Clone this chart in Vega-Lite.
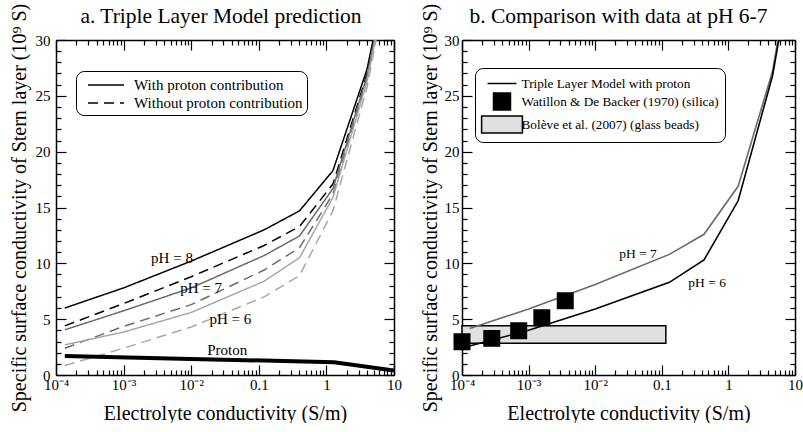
{
  "$schema": "https://vega.github.io/schema/vega-lite/v6.json",
  "padding": {"left": 9, "top": 3, "right": 0, "bottom": 0},
  "background": "white",
  "bounds": "flush",
  "spacing": 68,
  "resolve": {"scale": {"color": "independent", "fill": "independent", "shape": "independent", "stroke": "independent", "strokeDash": "independent"}, "legend": {"color": "independent", "fill": "independent", "shape": "independent", "stroke": "independent", "strokeDash": "independent"}},
  "config": {
    "font": "Liberation Serif",
    "view": {"stroke": null},
    "axis": {"labelFont": "Liberation Serif", "labelFontSize": 15, "labelColor": "black", "titleFont": "Liberation Serif", "titleFontSize": 20, "titleFontWeight": "normal", "titleColor": "black", "domainColor": "black", "domainWidth": 1.5, "tickColor": "black", "tickWidth": 1.2, "grid": false, "labelOverlap": false, "labelFlush": false, "labelBound": false},
    "title": {"font": "Liberation Serif", "fontSize": 21.5, "fontWeight": "normal", "color": "black"},
    "legend": {"labelFont": "Liberation Serif", "labelColor": "black"}
  },
  "datasets": {
    "a_lines": [
      {"x": 0.000135, "y": 6.0, "pH": "8", "type": "With proton contribution"},
      {"x": 0.001, "y": 7.8, "pH": "8", "type": "With proton contribution"},
      {"x": 0.01, "y": 10.2, "pH": "8", "type": "With proton contribution"},
      {"x": 0.12, "y": 13.0, "pH": "8", "type": "With proton contribution"},
      {"x": 0.4, "y": 14.7, "pH": "8", "type": "With proton contribution"},
      {"x": 1.25, "y": 18.3, "pH": "8", "type": "With proton contribution"},
      {"x": 4.0, "y": 27.4, "pH": "8", "type": "With proton contribution"},
      {"x": 6.0, "y": 32.6, "pH": "8", "type": "With proton contribution"},
      {"x": 0.000135, "y": 4.4, "pH": "8", "type": "Without proton contribution"},
      {"x": 0.001, "y": 6.4, "pH": "8", "type": "Without proton contribution"},
      {"x": 0.01, "y": 8.8, "pH": "8", "type": "Without proton contribution"},
      {"x": 0.12, "y": 11.6, "pH": "8", "type": "Without proton contribution"},
      {"x": 0.4, "y": 13.3, "pH": "8", "type": "Without proton contribution"},
      {"x": 1.25, "y": 17.1, "pH": "8", "type": "Without proton contribution"},
      {"x": 4.0, "y": 27.0, "pH": "8", "type": "Without proton contribution"},
      {"x": 6.0, "y": 32.3, "pH": "8", "type": "Without proton contribution"},
      {"x": 0.000135, "y": 4.05, "pH": "7", "type": "With proton contribution"},
      {"x": 0.001, "y": 5.75, "pH": "7", "type": "With proton contribution"},
      {"x": 0.01, "y": 7.8, "pH": "7", "type": "With proton contribution"},
      {"x": 0.12, "y": 10.7, "pH": "7", "type": "With proton contribution"},
      {"x": 0.4, "y": 12.45, "pH": "7", "type": "With proton contribution"},
      {"x": 1.25, "y": 16.7, "pH": "7", "type": "With proton contribution"},
      {"x": 4.0, "y": 26.8, "pH": "7", "type": "With proton contribution"},
      {"x": 6.0, "y": 32.1, "pH": "7", "type": "With proton contribution"},
      {"x": 0.000135, "y": 2.4, "pH": "7", "type": "Without proton contribution"},
      {"x": 0.001, "y": 4.35, "pH": "7", "type": "Without proton contribution"},
      {"x": 0.01, "y": 6.3, "pH": "7", "type": "Without proton contribution"},
      {"x": 0.12, "y": 9.4, "pH": "7", "type": "Without proton contribution"},
      {"x": 0.4, "y": 11.4, "pH": "7", "type": "Without proton contribution"},
      {"x": 1.25, "y": 16.2, "pH": "7", "type": "Without proton contribution"},
      {"x": 4.0, "y": 26.5, "pH": "7", "type": "Without proton contribution"},
      {"x": 6.0, "y": 31.9, "pH": "7", "type": "Without proton contribution"},
      {"x": 0.000135, "y": 2.7, "pH": "6", "type": "With proton contribution"},
      {"x": 0.001, "y": 3.85, "pH": "6", "type": "With proton contribution"},
      {"x": 0.01, "y": 5.6, "pH": "6", "type": "With proton contribution"},
      {"x": 0.12, "y": 8.4, "pH": "6", "type": "With proton contribution"},
      {"x": 0.4, "y": 10.5, "pH": "6", "type": "With proton contribution"},
      {"x": 1.25, "y": 15.9, "pH": "6", "type": "With proton contribution"},
      {"x": 4.0, "y": 26.3, "pH": "6", "type": "With proton contribution"},
      {"x": 6.0, "y": 31.7, "pH": "6", "type": "With proton contribution"},
      {"x": 0.000135, "y": 0.85, "pH": "6", "type": "Without proton contribution"},
      {"x": 0.001, "y": 2.4, "pH": "6", "type": "Without proton contribution"},
      {"x": 0.01, "y": 4.3, "pH": "6", "type": "Without proton contribution"},
      {"x": 0.12, "y": 7.0, "pH": "6", "type": "Without proton contribution"},
      {"x": 0.4, "y": 8.9, "pH": "6", "type": "Without proton contribution"},
      {"x": 1.25, "y": 14.7, "pH": "6", "type": "Without proton contribution"},
      {"x": 4.0, "y": 25.8, "pH": "6", "type": "Without proton contribution"},
      {"x": 6.0, "y": 31.4, "pH": "6", "type": "Without proton contribution"}
    ],
    "a_proton": [
      {"x": 0.000135, "y": 1.7},
      {"x": 0.01, "y": 1.44},
      {"x": 1.3, "y": 1.15},
      {"x": 10, "y": 0.4}
    ],
    "a_text": [
      {"x": 0.0052, "y": 10.5, "label": "pH = 8"},
      {"x": 0.014, "y": 7.8, "label": "pH = 7"},
      {"x": 0.038, "y": 5.0, "label": "pH = 6"},
      {"x": 0.034, "y": 2.25, "label": "Proton"}
    ],
    "b_lines": [
      {"x": 0.00013, "y": 4.17, "pH": "7"},
      {"x": 0.001, "y": 5.9, "pH": "7"},
      {"x": 0.01, "y": 8.1, "pH": "7"},
      {"x": 0.13, "y": 10.8, "pH": "7"},
      {"x": 0.43, "y": 12.6, "pH": "7"},
      {"x": 1.4, "y": 16.9, "pH": "7"},
      {"x": 4.6, "y": 27.2, "pH": "7"},
      {"x": 7.0, "y": 33.5, "pH": "7"},
      {"x": 0.00013, "y": 2.6, "pH": "6"},
      {"x": 0.001, "y": 4.0, "pH": "6"},
      {"x": 0.01, "y": 5.9, "pH": "6"},
      {"x": 0.13, "y": 8.3, "pH": "6"},
      {"x": 0.43, "y": 10.3, "pH": "6"},
      {"x": 1.4, "y": 15.6, "pH": "6"},
      {"x": 4.6, "y": 26.8, "pH": "6"},
      {"x": 7.0, "y": 33.0, "pH": "6"}
    ],
    "b_points": [
      {"x": 0.0001, "y": 2.98, "series": "Watillon & De Backer (1970) (silica)"},
      {"x": 0.00028, "y": 3.28, "series": "Watillon & De Backer (1970) (silica)"},
      {"x": 0.00071, "y": 3.96, "series": "Watillon & De Backer (1970) (silica)"},
      {"x": 0.00158, "y": 5.12, "series": "Watillon & De Backer (1970) (silica)"},
      {"x": 0.00355, "y": 6.64, "series": "Watillon & De Backer (1970) (silica)"}
    ],
    "b_rect": [
      {"x1": 0.0001, "x2": 0.115, "y1": 2.85, "y2": 4.4}
    ],
    "b_text": [
      {"x": 0.044, "y": 10.87, "label": "pH = 7"},
      {"x": 0.48, "y": 8.25, "label": "pH = 6"}
    ]
  },
  "hconcat": [
    {
      "width": 338,
      "height": 335,
      "title": {"text": "a. Triple Layer Model prediction", "anchor": "middle", "offset": -24, "dx": -4},
      "resolve": {"axis": {"x": "independent", "y": "independent"}},
      "layer": [
        {
          "data": {"name": "a_lines"},
          "mark": {"type": "line", "strokeWidth": 1.5, "clip": true},
          "encoding": {
            "x": {"field": "x", "type": "quantitative", "scale": {"type": "log", "domain": [0.0001, 10], "nice": false},
              "axis": {"orient": "bottom", "values": [0.0001,0.0002,0.0003,0.0004,0.0005,0.0006,0.0007,0.0008,0.0009,0.001,0.002,0.003,0.004,0.005,0.006,0.007,0.008,0.009,0.01,0.02,0.03,0.04,0.05,0.06,0.07,0.08,0.09,0.1,0.2,0.3,0.4,0.5,0.6,0.7,0.8,0.9,1,2,3,4,5,6,7,8,9,10],
                "labelExpr": "datum.value === 0.0001 ? '10⁻⁴' : datum.value === 0.001 ? '10⁻³' : datum.value === 0.01 ? '10⁻²' : datum.value === 0.1 ? '0.1' : datum.value === 1 ? '1' : datum.value === 10 ? '10' : ''",
                "tickSize": {"condition": {"test": "indexof([0.0001,0.001,0.01,0.1,1,10], datum.value) >= 0", "value": -10}, "value": -5},
                "labelPadding": 12, "title": "Electrolyte conductivity (S/m)", "titlePadding": 6}},
            "y": {"field": "y", "type": "quantitative", "scale": {"domain": [0, 30], "nice": false},
              "axis": {"orient": "left", "values": [0,1,2,3,4,5,6,7,8,9,10,11,12,13,14,15,16,17,18,19,20,21,22,23,24,25,26,27,28,29,30],
                "labelExpr": "datum.value % 5 === 0 ? datum.label : ''",
                "tickSize": {"condition": {"test": "datum.value % 5 === 0", "value": -10}, "value": -5},
                "labelPadding": 16, "title": "Specific surface conductivity of Stern layer (10⁹ S)", "titlePadding": 6}},
            "color": {"field": "pH", "type": "nominal", "scale": {"domain": ["8", "7", "6"], "range": ["#000000", "#6b6b6b", "#a8a8a8"]}, "legend": null},
            "strokeDash": {"field": "type", "type": "nominal",
              "scale": {"domain": ["With proton contribution", "Without proton contribution"], "range": [[1, 0], [10, 6]]},
              "legend": {"orient": "none", "legendX": 20, "legendY": 31, "title": null, "symbolType": "M-2,0H2", "symbolSize": 324, "symbolStrokeWidth": 1.5, "symbolStrokeColor": "black", "labelFontSize": 15, "padding": 4, "rowPadding": 0, "cornerRadius": 8, "strokeColor": "black", "fillColor": "white", "symbolOffset": 16, "labelOffset": 18, "labelLimit": 400}}
          }
        },
        {
          "data": {"name": "a_proton"},
          "mark": {"type": "line", "strokeWidth": 4, "color": "black", "clip": true},
          "encoding": {
            "x": {"field": "x", "type": "quantitative",
              "axis": {"orient": "top", "values": [0.0001,0.0002,0.0003,0.0004,0.0005,0.0006,0.0007,0.0008,0.0009,0.001,0.002,0.003,0.004,0.005,0.006,0.007,0.008,0.009,0.01,0.02,0.03,0.04,0.05,0.06,0.07,0.08,0.09,0.1,0.2,0.3,0.4,0.5,0.6,0.7,0.8,0.9,1,2,3,4,5,6,7,8,9,10],
                "labels": false, "title": null,
                "tickSize": {"condition": {"test": "indexof([0.0001,0.001,0.01,0.1,1,10], datum.value) >= 0", "value": -10}, "value": -5}}},
            "y": {"field": "y", "type": "quantitative",
              "axis": {"orient": "right", "values": [0,1,2,3,4,5,6,7,8,9,10,11,12,13,14,15,16,17,18,19,20,21,22,23,24,25,26,27,28,29,30],
                "labels": false, "title": null,
                "tickSize": {"condition": {"test": "datum.value % 5 === 0", "value": -10}, "value": -5}}}
          }
        },
        {
          "data": {"name": "a_text"},
          "mark": {"type": "text", "font": "Liberation Serif", "fontSize": 15, "color": "black", "align": "center", "baseline": "middle"},
          "encoding": {
            "x": {"field": "x", "type": "quantitative", "axis": null},
            "y": {"field": "y", "type": "quantitative", "axis": null},
            "text": {"field": "label"}
          }
        }
      ]
    },
    {
      "width": 333,
      "height": 335,
      "title": {"text": "b. Comparison with data at pH 6-7", "anchor": "middle", "offset": -24, "dx": -10},
      "resolve": {"axis": {"x": "independent", "y": "independent"}},
      "layer": [
        {
          "data": {"name": "b_rect"},
          "mark": {"type": "rect", "fill": "#e0e0e0", "stroke": "black", "strokeWidth": 1.5},
          "encoding": {
            "x": {"field": "x1", "type": "quantitative", "scale": {"type": "log", "domain": [0.0001, 10], "nice": false},
              "axis": {"orient": "top", "values": [0.0001,0.0002,0.0003,0.0004,0.0005,0.0006,0.0007,0.0008,0.0009,0.001,0.002,0.003,0.004,0.005,0.006,0.007,0.008,0.009,0.01,0.02,0.03,0.04,0.05,0.06,0.07,0.08,0.09,0.1,0.2,0.3,0.4,0.5,0.6,0.7,0.8,0.9,1,2,3,4,5,6,7,8,9,10],
                "labels": false, "title": null,
                "tickSize": {"condition": {"test": "indexof([0.0001,0.001,0.01,0.1,1,10], datum.value) >= 0", "value": -10}, "value": -5}}},
            "x2": {"field": "x2"},
            "y": {"field": "y1", "type": "quantitative", "scale": {"domain": [0, 30], "nice": false},
              "axis": {"orient": "right", "values": [0,1,2,3,4,5,6,7,8,9,10,11,12,13,14,15,16,17,18,19,20,21,22,23,24,25,26,27,28,29,30],
                "labels": false, "title": null,
                "tickSize": {"condition": {"test": "datum.value % 5 === 0", "value": -10}, "value": -5}}},
            "y2": {"field": "y2"}
          }
        },
        {
          "data": {"name": "b_lines"},
          "mark": {"type": "line", "strokeWidth": 1.6, "clip": true},
          "encoding": {
            "x": {"field": "x", "type": "quantitative",
              "axis": {"orient": "bottom", "values": [0.0001,0.0002,0.0003,0.0004,0.0005,0.0006,0.0007,0.0008,0.0009,0.001,0.002,0.003,0.004,0.005,0.006,0.007,0.008,0.009,0.01,0.02,0.03,0.04,0.05,0.06,0.07,0.08,0.09,0.1,0.2,0.3,0.4,0.5,0.6,0.7,0.8,0.9,1,2,3,4,5,6,7,8,9,10],
                "labelExpr": "datum.value === 0.0001 ? '10⁻⁴' : datum.value === 0.001 ? '10⁻³' : datum.value === 0.01 ? '10⁻²' : datum.value === 0.1 ? '0.1' : datum.value === 1 ? '1' : datum.value === 10 ? '10' : ''",
                "tickSize": {"condition": {"test": "indexof([0.0001,0.001,0.01,0.1,1,10], datum.value) >= 0", "value": -10}, "value": -5},
                "labelPadding": 12, "title": "Electrolyte conductivity (S/m)", "titlePadding": 6}},
            "y": {"field": "y", "type": "quantitative",
              "axis": {"orient": "left", "values": [0,1,2,3,4,5,6,7,8,9,10,11,12,13,14,15,16,17,18,19,20,21,22,23,24,25,26,27,28,29,30],
                "labelExpr": "datum.value % 5 === 0 ? datum.label : ''",
                "tickSize": {"condition": {"test": "datum.value % 5 === 0", "value": -10}, "value": -5},
                "labelPadding": 13, "title": "Specific surface conductivity of Stern layer (10⁹ S)", "titlePadding": 4}},
            "color": {"field": "pH", "type": "nominal", "scale": {"domain": ["7", "6"], "range": ["#6b6b6b", "#000000"]}, "legend": null}
          }
        },
        {
          "data": {"name": "b_points"},
          "mark": {"type": "point", "filled": true, "opacity": 1, "size": 240, "strokeWidth": 1.5},
          "encoding": {
            "x": {"field": "x", "type": "quantitative", "axis": null},
            "y": {"field": "y", "type": "quantitative", "axis": null},
            "shape": {"field": "series", "type": "nominal",
              "scale": {"domain": ["Triple Layer Model with proton", "Watillon & De Backer (1970) (silica)", "Bolève et al. (2007) (glass beads)"], "range": ["M-1.7,0H1.7", "square", "M-2.4,-1H2.4V1H-2.4Z"]},
              "legend": {"orient": "none", "legendX": 13, "legendY": 28, "title": null, "symbolSize": 289, "symbolStrokeWidth": 1.5, "labelFontSize": 13.25, "padding": 6, "rowPadding": 0, "cornerRadius": 8, "strokeColor": "black", "fillColor": "white", "symbolOffset": 11.5, "labelOffset": 10, "labelLimit": 400}},
            "fill": {"field": "series", "type": "nominal",
              "scale": {"domain": ["Triple Layer Model with proton", "Watillon & De Backer (1970) (silica)", "Bolève et al. (2007) (glass beads)"], "range": ["transparent", "black", "#e0e0e0"]},
              "legend": {"orient": "none", "legendX": 13, "legendY": 28, "title": null, "symbolSize": 289, "symbolStrokeWidth": 1.5, "labelFontSize": 13.25, "padding": 6, "rowPadding": 0, "cornerRadius": 8, "strokeColor": "black", "fillColor": "white", "symbolOffset": 11.5, "labelOffset": 10, "labelLimit": 400}},
            "stroke": {"field": "series", "type": "nominal",
              "scale": {"domain": ["Triple Layer Model with proton", "Watillon & De Backer (1970) (silica)", "Bolève et al. (2007) (glass beads)"], "range": ["black", "black", "black"]},
              "legend": {"orient": "none", "legendX": 13, "legendY": 28, "title": null, "symbolSize": 289, "symbolStrokeWidth": 1.5, "labelFontSize": 13.25, "padding": 6, "rowPadding": 0, "cornerRadius": 8, "strokeColor": "black", "fillColor": "white", "symbolOffset": 11.5, "labelOffset": 10, "labelLimit": 400}}
          }
        },
        {
          "data": {"name": "b_text"},
          "mark": {"type": "text", "font": "Liberation Serif", "fontSize": 13.5, "color": "black", "align": "center", "baseline": "middle"},
          "encoding": {
            "x": {"field": "x", "type": "quantitative", "axis": null},
            "y": {"field": "y", "type": "quantitative", "axis": null},
            "text": {"field": "label"}
          }
        }
      ]
    }
  ]
}
